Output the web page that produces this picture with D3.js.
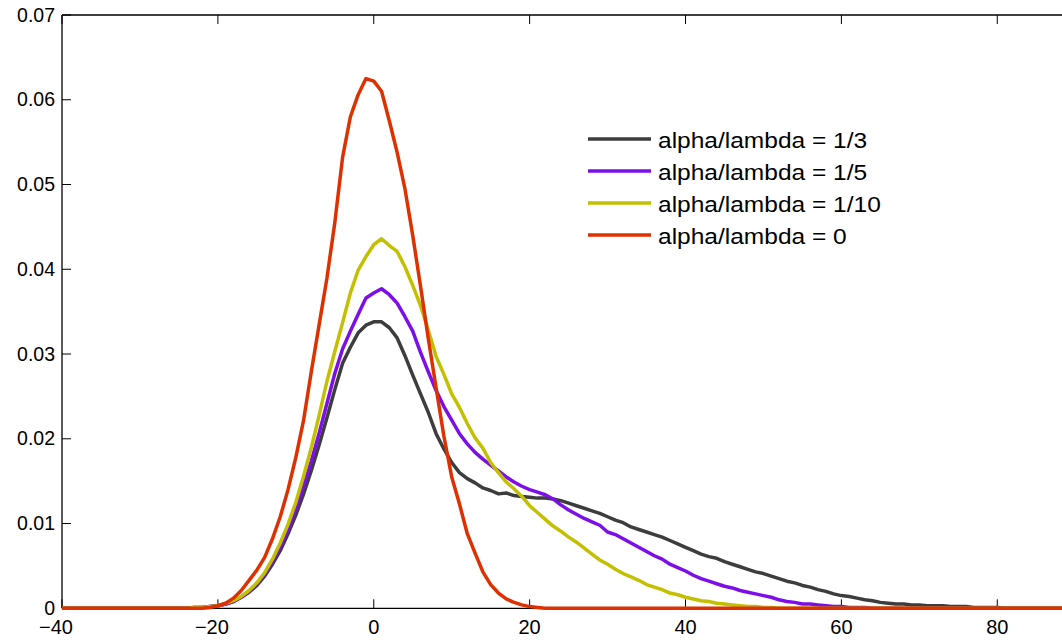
<!DOCTYPE html>
<html>
<head>
<meta charset="utf-8">
<script src="https://cdn.jsdelivr.net/npm/d3@7"></script>
<style>
  html, body { margin: 0; padding: 0; background: #fff; overflow: hidden; }
  svg { display: block; }
  text { font-family: "Liberation Sans", Arial, Helvetica, sans-serif; fill: #000; }
</style>
</head>
<body>
<svg id="chart" width="1062" height="640"></svg>
<script>
// x positions of the samples (one per unit from -40 to 90)
const xValues = d3.range(-40, 91);

const seriesNames = ["alpha/lambda = 1/3", "alpha/lambda = 1/5", "alpha/lambda = 1/10", "alpha/lambda = 0"];
const seriesColors = ["#3d3d3d", "#7c0fe8", "#c2c000", "#de3000"];

const valuesThird = [
  0,0,0,0,0,0,0,0,0,0,0,0,0,0,0,0,0,
  0.0001,0.0001,0.0002,0.0003,0.0005,0.0008,0.0013,0.0019,0.0027,0.0038,0.0052,0.0068,0.0088,0.011,0.0135,0.0163,0.0193,0.0225,0.0258,0.0289,0.0308,0.0325,0.0334,
  0.0338,0.0338,0.0331,0.0319,0.0298,0.0275,0.0253,0.0231,0.0206,0.0188,0.0172,
  0.016,0.0153,0.0148,0.0142,0.0139,0.0135,0.0136,0.0133,0.0132,0.0131,
  0.013,0.013,0.0129,0.0127,0.0124,0.0121,0.0118,0.0115,0.0112,0.0108,
  0.0104,0.0101,0.0096,0.0093,0.009,0.0087,0.0084,0.008,0.0076,0.0072,
  0.0068,0.0064,0.0061,0.0059,0.0055,0.0052,0.0049,0.0046,0.0043,0.0041,
  0.0038,0.0035,0.0032,0.003,0.0027,0.0025,0.0022,0.002,0.0017,0.0015,
  0.0014,0.0012,0.001,0.0009,0.0007,0.0006,0.0005,0.0005,0.0004,0.0004,
  0.0003,0.0003,0.0003,0.0002,0.0002,0.0002,0.0001,0.0001,0.0001,0.0001,
  0,0,0,0,0,0,0,0,0,0
];

const valuesFifth = [
  0,0,0,0,0,0,0,0,0,0,0,0,0,0,0,0,0,
  0.0001,0.0001,0.0002,0.0003,0.0005,0.0008,0.0013,0.002,0.0029,0.004,0.0055,0.0072,0.0093,0.0117,0.0144,0.0174,0.0207,0.0242,0.0277,0.0306,0.0327,0.0347,0.0366,
  0.0372,0.0377,0.037,0.036,0.0344,0.0327,0.0302,0.0279,0.0257,0.0238,0.0222,
  0.0206,0.0194,0.0184,0.0176,0.0169,0.0162,0.0155,0.0149,0.0144,0.014,
  0.0137,0.0134,0.0129,0.0122,0.0116,0.0111,0.0106,0.0102,0.0098,0.009,
  0.0087,0.0082,0.0077,0.0072,0.0067,0.0062,0.0058,0.0052,0.0048,0.0044,
  0.0039,0.0035,0.0032,0.0029,0.0026,0.0024,0.0021,0.0019,0.0017,0.0015,
  0.0013,0.001,0.0008,0.0007,0.0005,0.0005,0.0004,0.0003,0.0002,0.0002,
  0.0001,0.0001,0.0001,0,0,0,0,0,0,0,
  0,0,0,0,0,0,0,0,0,0,
  0,0,0,0,0,0,0,0,0,0
];

const valuesTenth = [
  0,0,0,0,0,0,0,0,0,0,0,0,0,0,0,0,0,
  0.0001,0.0001,0.0002,0.0003,0.0006,0.0009,0.0014,0.0021,0.003,0.0042,0.0058,0.0077,0.0099,0.0125,0.0156,0.019,0.0228,0.0268,0.0303,0.0337,0.0372,0.0399,0.0415,
  0.0429,0.0436,0.0428,0.0421,0.0403,0.0381,0.0357,0.0328,0.0297,0.0276,0.0253,
  0.0237,0.0218,0.0201,0.0189,0.0172,0.016,0.0149,0.0141,0.0132,0.0121,
  0.0113,0.0105,0.0097,0.0091,0.0084,0.0078,0.0071,0.0064,0.0057,0.0052,
  0.0046,0.0041,0.0037,0.0033,0.0028,0.0025,0.0022,0.0018,0.0016,0.0013,
  0.0011,0.0009,0.0008,0.0006,0.0005,0.0004,0.0003,0.0002,0.0002,0.0001,
  0.0001,0,0,0,0,0,0,0,0,0,
  0,0,0,0,0,0,0,0,0,0,
  0,0,0,0,0,0,0,0,0,0,
  0,0,0,0,0,0,0,0,0,0
];

const valuesZero = [
  0,0,0,0,0,0,0,0,0,0,0,0,0,0,0,0,0,0,0,
  0.0001,0.0003,0.0006,0.0012,0.0021,0.0033,0.0045,0.006,0.0082,0.0108,0.014,0.0178,0.0222,0.028,0.0335,0.039,0.0455,0.0532,0.058,0.0606,0.0625,
  0.0622,0.061,0.0575,0.0538,0.0495,0.044,0.038,0.0318,0.026,0.0203,0.0155,0.0123,0.0088,0.0065,0.0043,0.0028,0.0018,0.0011,0.0007,0.0004,0.0002,0.0001,
  0,0,0,0,0,0,0,0,0,0,
  0,0,0,0,0,0,0,0,0,0,
  0,0,0,0,0,0,0,0,0,0,
  0,0,0,0,0,0,0,0,0,0,
  0,0,0,0,0,0,0,0,0,0,
  0,0,0,0,0,0,0,0,0,0,
  0,0,0,0,0,0,0,0,0
];

const xTicks = [-40, -20, 0, 20, 40, 60, 80];
const xTickLabels = ["\u221240", "\u221220", "0", "20", "40", "60", "80"];
const yTicks = [0, 0.01, 0.02, 0.03, 0.04, 0.05, 0.06, 0.07];
const yTickLabels = ["0", "0.01", "0.02", "0.03", "0.04", "0.05", "0.06", "0.07"];

const seriesValues = [valuesThird, valuesFifth, valuesTenth, valuesZero];

(function draw() {
  const svg = d3.select("#chart");
  const mLeft = 62, mTop = 15, mBottom = 608.3;
  const pxPerUnit = 7.794;

  const x = d3.scaleLinear().domain([-40, 100]).range([mLeft, mLeft + 140 * pxPerUnit]);
  const y = d3.scaleLinear().domain([0, 0.07]).range([mBottom, mTop]);

  const tickLen = 9;

  const axisG = svg.append("g");
  axisG.append("line").attr("x1", mLeft).attr("x2", x(100)).attr("y1", mTop).attr("y2", mTop)
    .attr("stroke", "#000").attr("stroke-width", 1.3);
  axisG.append("line").attr("x1", mLeft).attr("x2", x(100)).attr("y1", mBottom).attr("y2", mBottom)
    .attr("stroke", "#000").attr("stroke-width", 1.3);
  axisG.append("line").attr("x1", mLeft).attr("x2", mLeft).attr("y1", mTop).attr("y2", mBottom)
    .attr("stroke", "#000").attr("stroke-width", 1.3);

  xTicks.forEach((t, i) => {
    const px = x(t);
    axisG.append("line").attr("x1", px).attr("x2", px).attr("y1", mBottom).attr("y2", mBottom - tickLen)
      .attr("stroke", "#000").attr("stroke-width", 1);
    axisG.append("line").attr("x1", px).attr("x2", px).attr("y1", mTop).attr("y2", mTop + tickLen)
      .attr("stroke", "#000").attr("stroke-width", 1);
    axisG.append("text")
      .attr("x", px + (t < 0 ? -6 : 0))
      .attr("y", 634)
      .attr("text-anchor", "middle")
      .attr("font-size", 20)
      .text(xTickLabels[i]);
  });

  yTicks.forEach((t, i) => {
    const py = y(t);
    axisG.append("line").attr("x1", mLeft).attr("x2", mLeft + tickLen).attr("y1", py).attr("y2", py)
      .attr("stroke", "#000").attr("stroke-width", 1);
    axisG.append("text")
      .attr("x", 55)
      .attr("y", py + 6.5)
      .attr("text-anchor", "end")
      .attr("font-size", 19.5)
      .text(yTickLabels[i]);
  });

  const line = d3.line()
    .x((d, i) => x(xValues[i]))
    .y(d => y(d));

  seriesValues.forEach((vals, k) => {
    svg.append("path")
      .datum(vals)
      .attr("d", line)
      .attr("fill", "none")
      .attr("stroke", seriesColors[k])
      .attr("stroke-width", 3.5)
      .attr("stroke-linejoin", "round")
      .attr("stroke-linecap", "butt");
  });

  const legendG = svg.append("g");
  const legendY0 = 139, legendDy = 32;
  seriesNames.forEach((name, k) => {
    const ly = legendY0 + k * legendDy;
    legendG.append("line").attr("x1", 588).attr("x2", 651).attr("y1", ly).attr("y2", ly)
      .attr("stroke", seriesColors[k]).attr("stroke-width", 3.5);
    legendG.append("text")
      .attr("transform", `translate(658,${ly + 9}) scale(1.09,1)`)
      .attr("font-size", 22.5)
      .text(name);
  });
})();
</script>
</body>
</html>
